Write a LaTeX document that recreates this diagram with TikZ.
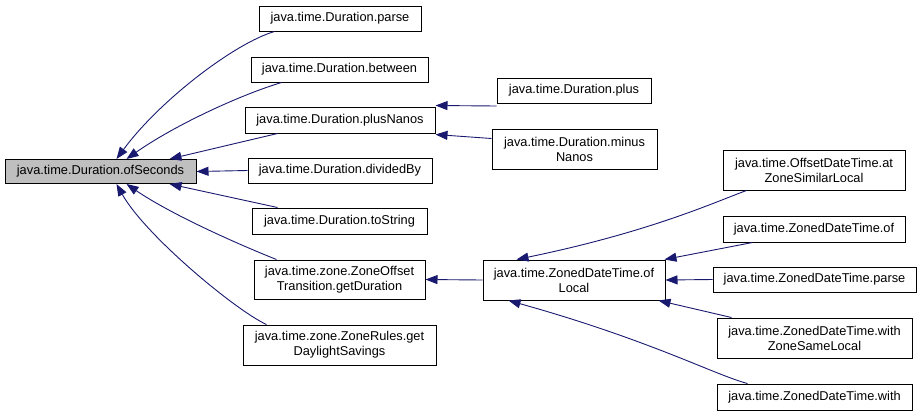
\documentclass[tikz,border=0pt]{standalone}
\usepackage{fontspec}
\setmainfont{Liberation Sans}
\usetikzlibrary{arrows.meta}
\definecolor{edgeblue}{HTML}{191970}
\definecolor{focusgray}{HTML}{BFBFBF}
\tikzset{
  fn/.style={draw=black, line width=1pt, inner sep=0pt, align=center,
    font=\fontsize{12.8}{15}\selectfont, text=black},
  focus/.style={fn, fill=focusgray},
  edge/.style={draw=edgeblue, line width=0.9pt,
    -{Triangle[length=12pt,width=9pt,fill=edgeblue]}},
}
\begin{document}
\begin{tikzpicture}[x=1pt,y=-1pt]
\useasboundingbox (0,0) rectangle (921,416);
% nodes
\node[focus, minimum width=191, minimum height=24] (ofs) at (100.5,171.5) {java.time.Duration.ofSeconds};
\node[fn, minimum width=162, minimum height=25] (parse) at (340,18.5) {java.time.Duration.parse};
\node[fn, minimum width=177, minimum height=25] (betw) at (339.5,69.5) {java.time.Duration.between};
\node[fn, minimum width=190, minimum height=26] (pn) at (340,120) {java.time.Duration.plusNanos};
\node[fn, minimum width=184, minimum height=25] (div) at (340,170.5) {java.time.Duration.dividedBy};
\node[fn, minimum width=175, minimum height=26] (tos) at (339.5,221) {java.time.Duration.toString};
\node[fn, minimum width=171, minimum height=39] (zot) at (339.5,279.5) {java.time.zone.ZoneOffset\\Transition.getDuration};
\node[fn, minimum width=193, minimum height=40] (zr) at (339.5,345) {java.time.zone.ZoneRules.get\\DaylightSavings};
\node[fn, minimum width=154, minimum height=25] (plus) at (574,90.5) {java.time.Duration.plus};
\node[fn, minimum width=165, minimum height=40] (mn) at (574.5,149) {java.time.Duration.minus\\Nanos};
\node[fn, minimum width=182, minimum height=40] (ofl) at (574,280) {java.time.ZonedDateTime.of\\Local};
\node[fn, minimum width=182, minimum height=40] (odt) at (814,170) {java.time.OffsetDateTime.at\\ZoneSimilarLocal};
\node[fn, minimum width=182, minimum height=26] (zof) at (814,229) {java.time.ZonedDateTime.of};
\node[fn, minimum width=203, minimum height=25] (zpa) at (814.5,279.5) {java.time.ZonedDateTime.parse};
\node[fn, minimum width=195, minimum height=40] (zwz) at (814.5,338) {java.time.ZonedDateTime.with\\ZoneSameLocal};
\node[fn, minimum width=195, minimum height=26] (zw) at (814.5,397) {java.time.ZonedDateTime.with};
% edges into ofSeconds
\draw[edge] ([xshift=16]parse.south west) .. controls (235,43) and (160,100) .. ([xshift=112]ofs.north west);
\draw[edge] ([xshift=31]betw.south west) .. controls (240,95) and (175,125) .. ([xshift=122]ofs.north west);
\draw[edge] ([xshift=33]pn.south west) -- ([xshift=165]ofs.north west);
\draw[edge] (div.west) -- (ofs.east);
\draw[edge] ([xshift=26]tos.north west) -- ([xshift=165]ofs.south west);
\draw[edge] ([xshift=23]zot.north west) .. controls (240,245) and (172,215) .. ([xshift=122]ofs.south west);
\draw[edge] ([xshift=24]zr.north west) .. controls (235,310) and (145,235) .. ([xshift=112]ofs.south west);
% edges into plusNanos
\draw[edge] ([yshift=-2.5]plus.south west) -- ([yshift=1]pn.north east);
\draw[edge] ([yshift=-10]mn.north west) -- ([yshift=-1]pn.south east);
% ofLocal -> ZoneOffsetTransition
\draw[edge] (ofl.west) -- (zot.east);
% edges into ofLocal
\draw[edge] ([xshift=24]odt.south west) .. controls (715,202) and (650,232) .. ([xshift=34]ofl.north west);
\draw[edge] ([xshift=30]zof.south west) -- ([xshift=-1]ofl.north east);
\draw[edge] (zpa.west) -- (ofl.east);
\draw[edge] ([xshift=15]zwz.north west) -- ([xshift=-7]ofl.south east);
\draw[edge] ([xshift=31]zw.north west) .. controls (715,375) and (650,340) .. ([xshift=26]ofl.south west);
\end{tikzpicture}
\end{document}
